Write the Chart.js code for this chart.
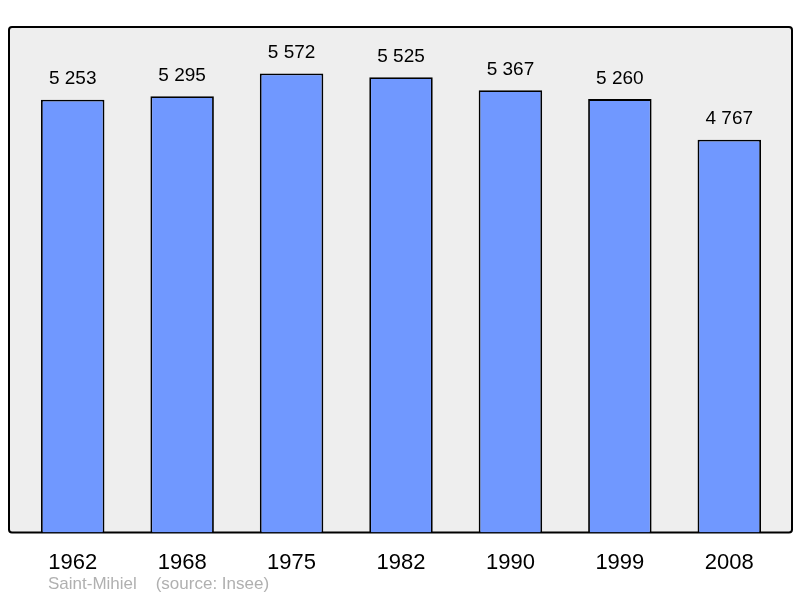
<!DOCTYPE html>
<html>
<head>
<meta charset="utf-8">
<script src="https://cdn.jsdelivr.net/npm/chart.js@4"></script>
<style>
  html, body { margin: 0; padding: 0; background: #fff; }
  #wrap { width: 800px; height: 598px; }
</style>
</head>
<body>
<div id="wrap"><canvas id="chart" width="800" height="598"></canvas></div>
<script>
const years = ['1962', '1968', '1975', '1982', '1990', '1999', '2008'];
const population = [5253, 5295, 5572, 5525, 5367, 5260, 4767];
const footerText = 'Saint-Mihiel    (source: Insee)';

function formatNumber(n) {
    return String(n).replace(/\B(?=(\d{3})+(?!\d))/g, ' ');
}

// gray frame behind the bars
const framePlugin = {
    id: 'frame',
    beforeDraw(chart) {
        const { ctx, chartArea } = chart;
        const x = chartArea.left - 9, y = chartArea.top;
        const w = chartArea.right + 8 - x, h = chartArea.bottom - y;
        ctx.save();
        ctx.beginPath();
        ctx.roundRect(x, y, w, h, 3);
        ctx.fillStyle = '#eeeeee';
        ctx.fill();
        ctx.lineWidth = 2;
        ctx.strokeStyle = '#000';
        ctx.stroke();
        ctx.restore();
    },
    afterDatasetsDraw(chart) {
        const { ctx } = chart;
        const meta = chart.getDatasetMeta(0);
        ctx.save();
        ctx.fillStyle = '#000';
        ctx.font = '19px "Liberation Sans", Arial, sans-serif';
        ctx.textAlign = 'center';
        ctx.textBaseline = 'bottom';
        meta.data.forEach((bar, i) => {
            ctx.fillText(formatNumber(population[i]), bar.x, bar.y - 11);
        });
        ctx.fillStyle = '#b0b0b0';
        ctx.font = '17px "Liberation Sans", Arial, sans-serif';
        ctx.textAlign = 'left';
        ctx.textBaseline = 'middle';
        ctx.fillText(footerText, 48, 584);
        ctx.restore();
    }
};

new Chart(document.getElementById('chart').getContext('2d'), {
    type: 'bar',
    data: {
        labels: years,
        datasets: [{
            data: population,
            backgroundColor: '#7098ff',
            borderColor: '#000',
            borderWidth: 1.8,
            categoryPercentage: 1,
            barPercentage: 0.58
        }]
    },
    options: {
        responsive: false,
        animation: false,
        layout: { padding: { left: 18, right: 16, top: 27, bottom: 13 } },
        plugins: { legend: { display: false }, tooltip: { enabled: false } },
        scales: {
            x: {
                grid: { display: false },
                border: { display: false },
                ticks: {
                    color: '#000',
                    padding: 9,
                    font: { size: 22, family: '"Liberation Sans", Arial, sans-serif' }
                }
            },
            y: { display: false, min: 0, max: 6135 }
        }
    },
    plugins: [framePlugin]
});
</script>
</body>
</html>
